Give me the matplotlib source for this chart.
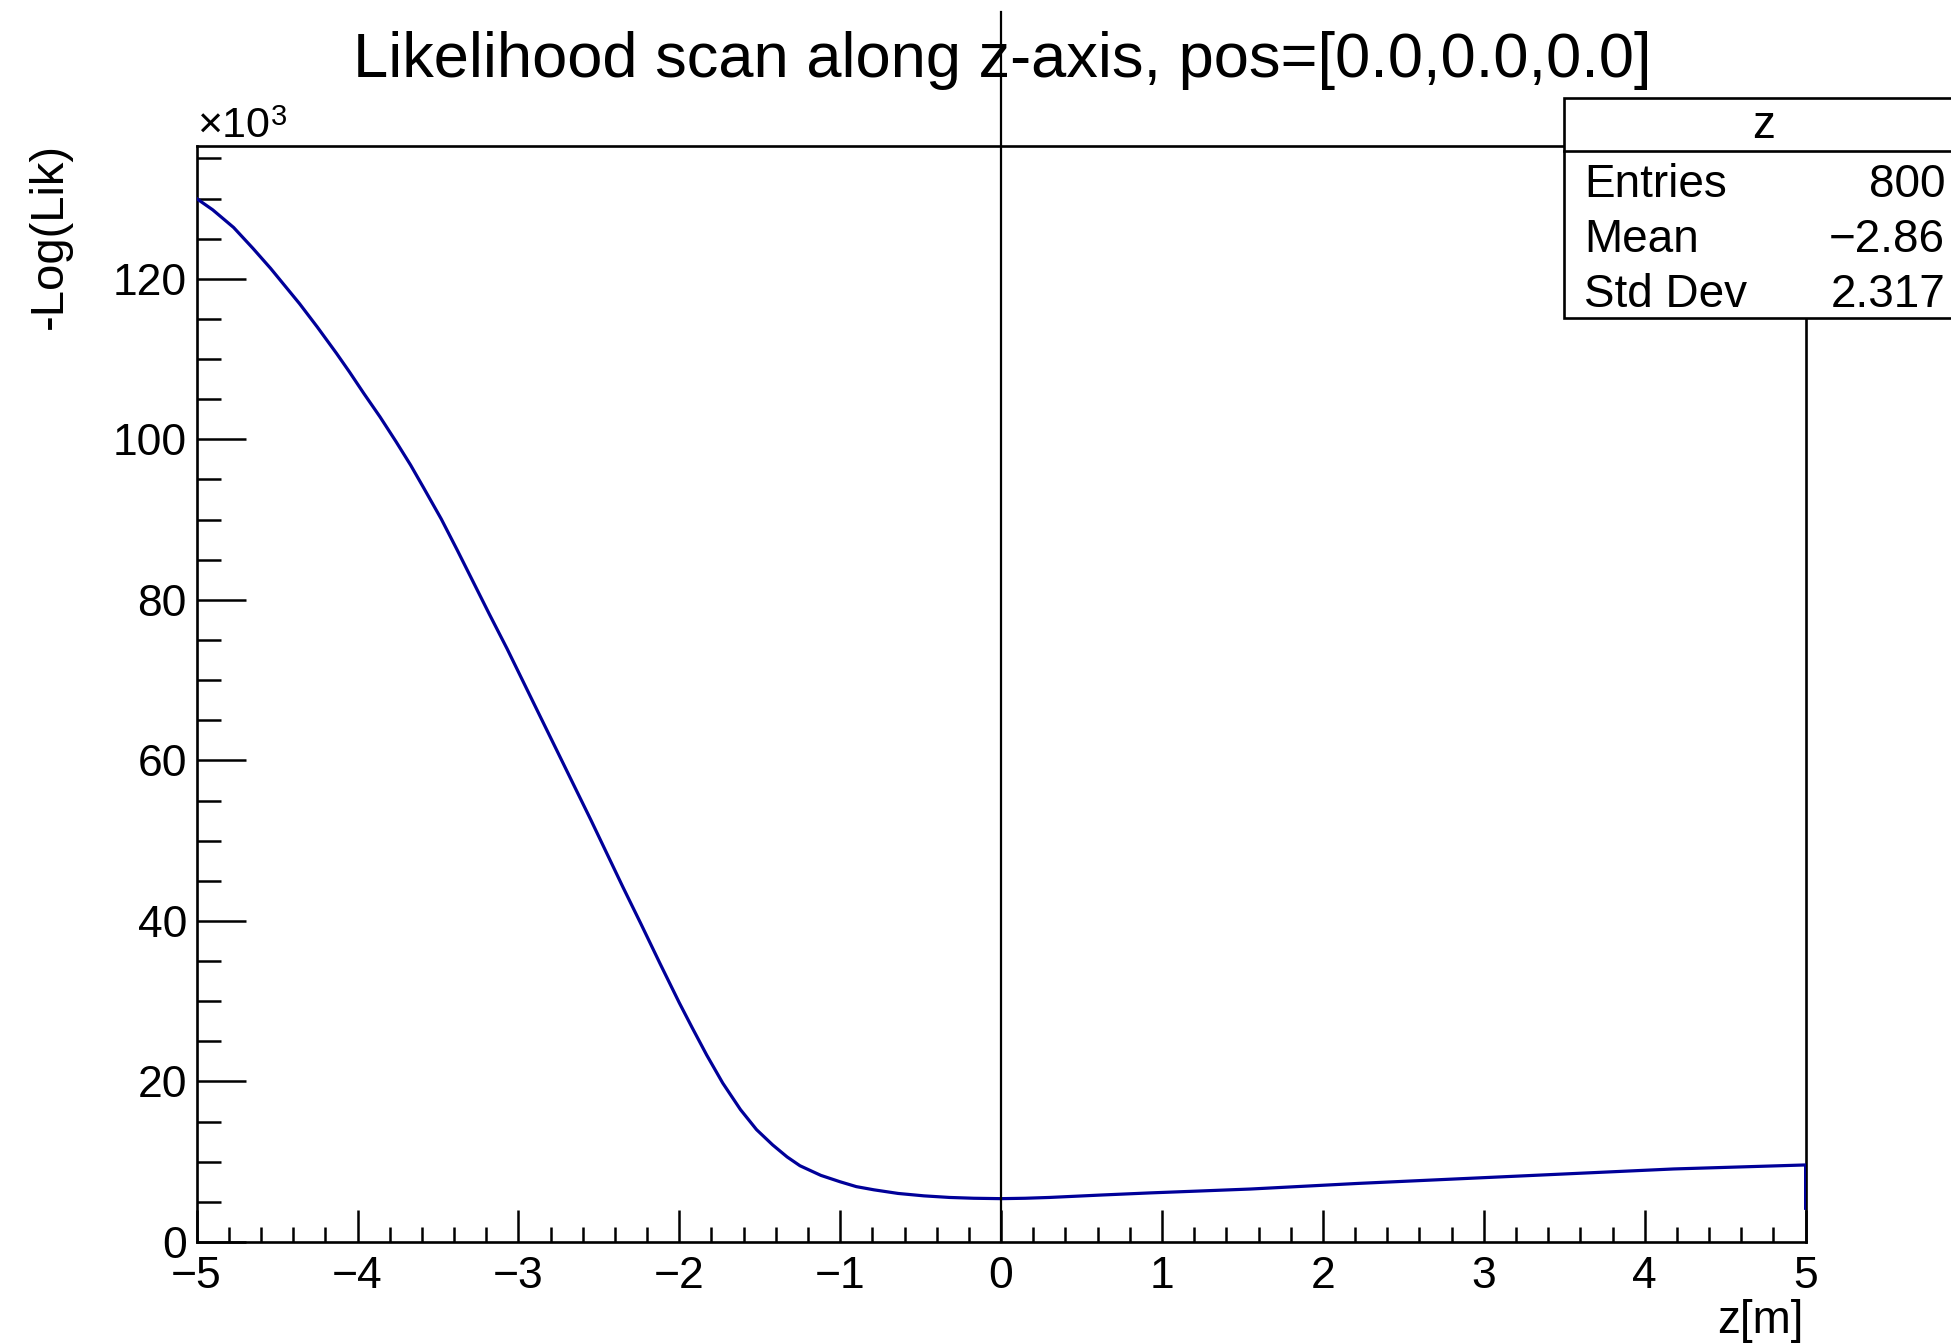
import matplotlib
matplotlib.use('Agg')
import matplotlib.pyplot as plt
from matplotlib.ticker import MultipleLocator
from matplotlib.patches import Rectangle
from matplotlib.lines import Line2D

plt.rcParams['font.family'] = ['Liberation Sans', 'DejaVu Sans']

# scan of -log(likelihood) along z (values in units of 1e3)
z_pos = [-5.00, -4.90, -4.77, -4.65, -4.54, -4.45, -4.36, -4.25, -4.13, -4.05,
         -3.96, -3.86, -3.76, -3.67, -3.59, -3.48, -3.38, -3.28, -3.18, -3.07,
         -2.97, -2.87, -2.76, -2.66, -2.55, -2.45, -2.35, -2.24, -2.12, -2.00,
         -1.92, -1.83, -1.73, -1.62, -1.52, -1.42, -1.33, -1.25, -1.12, -1.00,
         -0.90, -0.79, -0.64, -0.48, -0.32, -0.17, 0.00, 0.15, 0.30, 0.62,
         0.93, 1.23, 1.55, 2.22, 3.20, 4.18, 5.00, 5.00]
nll = [130.0, 128.6, 126.4, 123.8, 121.3, 119.1, 116.9, 114.0, 110.7, 108.4,
       105.7, 102.8, 99.7, 96.8, 94.0, 90.1, 86.2, 82.2, 78.2, 73.9,
       69.8, 65.7, 61.2, 57.1, 52.6, 48.4, 44.2, 39.7, 34.7, 29.8,
       26.7, 23.3, 19.8, 16.5, 14.0, 12.1, 10.6, 9.5, 8.3, 7.5,
       6.9, 6.5, 6.05, 5.75, 5.55, 5.45, 5.40, 5.45, 5.55, 5.85,
       6.12, 6.35, 6.6, 7.3, 8.2, 9.1, 9.6, 4.2]

stat_names = ['Entries', 'Mean', 'Std Dev']
stat_values = ['800', '\u22122.86', '2.317']

W, H = 1951, 1343
fig = plt.figure(figsize=(W / 100, H / 100), dpi=100)
ax = fig.add_axes([196.6 / W, 1 - 1242 / H, (1805.6 - 196.6) / W, (1242 - 145.6) / H])

ax.plot(z_pos, nll, color='#000099', lw=2.3, zorder=3)
ax.set_xlim(-5, 5)
ax.set_ylim(0, 136.6)

# true position marker, runs up through the title
ax.axvline(0, ymin=0, ymax=(1242 - 12) / (1242 - 145.6), color='black', lw=1.6, clip_on=False, zorder=4)

for s in ax.spines.values():
    s.set_linewidth(1.9)

ax.xaxis.set_major_locator(MultipleLocator(1))
ax.xaxis.set_minor_locator(MultipleLocator(0.2))
ax.yaxis.set_major_locator(MultipleLocator(20))
ax.yaxis.set_minor_locator(MultipleLocator(5))
ax.tick_params(axis='x', which='major', direction='in', length=23, width=1.8, labelsize=32, pad=10)
ax.tick_params(axis='x', which='minor', direction='in', length=11, width=1.8)
ax.tick_params(axis='y', which='major', direction='in', length=35, width=1.8, labelsize=32, pad=7)
ax.tick_params(axis='y', which='minor', direction='in', length=17, width=1.8)

fig.text(1002 / W, 1 - 77 / H, 'Likelihood scan along z-axis, pos=[0.0,0.0,0.0]',
         fontsize=45.5, ha='center', va='baseline')
fig.text(1803 / W, 1 - 1321 / H, 'z[m]', fontsize=33, ha='right', va='center')
fig.text(50 / W, 1 - 143 / H, '-Log(Lik)', fontsize=34, rotation=90, ha='center', va='top')
fig.text(197 / W, 1 - 137 / H, '\u00d710', fontsize=31, ha='left', va='baseline')
fig.text(271 / W, 1 - 125 / H, '3', fontsize=21, ha='left', va='baseline')

# statistics box: title line plus three equal rows
box_l, box_r, box_t, box_b = 1564, 1964, 98.3, 317.7
row_h = (box_b - box_t) / 4
fig.add_artist(Rectangle((box_l / W, 1 - box_b / H), (box_r - box_l) / W, (box_b - box_t) / H,
                         transform=fig.transFigure, facecolor='white', edgecolor='black',
                         lw=1.9, clip_on=False, zorder=5))
head_b = box_t + row_h - 2
fig.add_artist(Line2D([box_l / W, box_r / W], [1 - head_b / H, 1 - head_b / H],
                      transform=fig.transFigure, color='black', lw=1.9, zorder=6))

fs = 33
em = fs * 100 / 72
fig.text((box_l + box_r) / 2 / W, 1 - (box_t + row_h / 2 + 0.26 * em) / H, 'z',
         fontsize=fs, ha='center', va='baseline', zorder=7)
for i, (name, val) in enumerate(zip(stat_names, stat_values)):
    yc = box_t + row_h * (i + 1.5)
    yb = 1 - (yc + 0.358 * em) / H
    fig.text(1584 / W, yb, name, fontsize=fs, ha='left', va='baseline', zorder=7)
    fig.text(1945 / W, yb, val, fontsize=fs, ha='right', va='baseline', zorder=7)

fig.savefig('out.png', dpi=100)
